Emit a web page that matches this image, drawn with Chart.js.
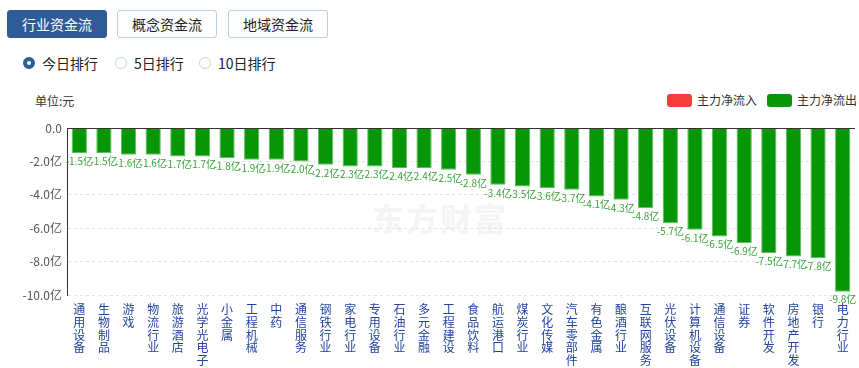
<!DOCTYPE html>
<html>
<head>
<meta charset="utf-8">
<script src="https://cdn.jsdelivr.net/npm/chart.js@4"></script>
<style>
  body { margin: 0; width: 859px; height: 368px; overflow: hidden; background: #fff;
         font-family: "Microsoft YaHei", "Noto Sans CJK SC", sans-serif; position: relative; }
  .tab { position: absolute; top: 10px; height: 28px; width: 100px; box-sizing: border-box;
         border: 1px solid #b9d0e6; border-radius: 3px; font-size: 14px; line-height: 26px;
         text-align: center; color: #222; background: #fff; }
  .tab.on { background: #2f5b97; border-color: #2f5b97; color: #fff; }
  .radio { position: absolute; top: 55px; font-size: 14px; color: #222; line-height: 16px; }
  .radio i { position: absolute; left: -19px; top: 2px; width: 12px; height: 12px; box-sizing: border-box;
             border: 1px solid #c5d5e6; border-radius: 50%; }
  .radio.on i { border: 4px solid #2f5b97; }
  .unit { position: absolute; left: 35px; top: 92px; font-size: 12px; color: #333; }
  .leg { position: absolute; top: 93px; font-size: 12px; color: #333; line-height: 14px; }
  .leg b { position: absolute; left: -30px; top: 1px; width: 25px; height: 13px; border-radius: 3px; }
  .wm { position: absolute; left: 372px; top: 194px; font-size: 32px; font-weight: bold; color: #f4f4f4;
        letter-spacing: 2px; }
  #wrap { position: absolute; left: 0; top: 85px; width: 859px; height: 283px; }
</style>
</head>
<body>
<div class="tab on" style="left:7px">行业资金流</div>
<div class="tab" style="left:117px">概念资金流</div>
<div class="tab" style="left:228px">地域资金流</div>

<div class="radio on" style="left:42px"><i></i>今日排行</div>
<div class="radio" style="left:134px"><i></i>5日排行</div>
<div class="radio" style="left:218px"><i></i>10日排行</div>

<div class="wm">东方财富</div>
<div class="unit">单位:元</div>
<div class="leg" style="left:697px"><b style="background:#f43e3e"></b>主力净流入</div>
<div class="leg" style="left:797px"><b style="background:#079607"></b>主力净流出</div>

<div id="wrap"><canvas id="flowChart"></canvas></div>

<script>
// Industry net main-force outflow, unit: 亿
const categories = ['通用设备', '生物制品', '游戏', '物流行业', '旅游酒店', '光学光电子', '小金属', '工程机械',
  '中药', '通信服务', '钢铁行业', '家电行业', '专用设备', '石油行业', '多元金融', '工程建设',
  '食品饮料', '航运港口', '煤炭行业', '文化传媒', '汽车零部件', '有色金属', '酿酒行业', '互联网服务',
  '光伏设备', '计算机设备', '通信设备', '证券', '软件开发', '房地产开发', '银行', '电力行业'];
const netFlow = [-1.5, -1.5, -1.6, -1.6, -1.7, -1.7, -1.8, -1.9,
  -1.9, -2.0, -2.2, -2.3, -2.3, -2.4, -2.4, -2.5,
  -2.8, -3.4, -3.5, -3.6, -3.7, -4.1, -4.3, -4.8,
  -5.7, -6.1, -6.5, -6.9, -7.5, -7.7, -7.8, -9.8];
const yTicks = [0, -2, -4, -6, -8, -10];

// value labels under each bar + solid zero line
const barLabels = {
  id: 'barLabels',
  afterDatasetsDraw(chart) {
    const ctx = chart.ctx;
    const y = chart.scales.y;
    const area = chart.chartArea;
    ctx.save();
    ctx.strokeStyle = '#333';
    ctx.lineWidth = 1;
    const y0 = Math.round(y.getPixelForValue(0)) + 0.5;
    ctx.beginPath();
    ctx.moveTo(area.left, y0);
    ctx.lineTo(area.right, y0);
    ctx.stroke();

    ctx.font = '10px "Microsoft YaHei", "Noto Sans CJK SC", sans-serif';
    ctx.fillStyle = '#3aa53a';
    ctx.textAlign = 'center';
    ctx.textBaseline = 'top';
    chart.getDatasetMeta(0).data.forEach((bar, i) => {
      ctx.fillText(netFlow[i].toFixed(1) + '亿', bar.x, bar.y + 3);
    });
    ctx.restore();
  }
};

new Chart(document.getElementById('flowChart'), {
  type: 'bar',
  data: {
    labels: categories.map(c => c.split('')),
    datasets: [{
      data: netFlow,
      backgroundColor: '#079607',
      borderColor: '#5cc05c',
      borderWidth: 1,
      borderSkipped: 'start',
      categoryPercentage: 0.62,
      barPercentage: 1
    }]
  },
  options: {
    responsive: true,
    maintainAspectRatio: false,
    animation: false,
    layout: { padding: { top: 43, right: 4, left: 0, bottom: 0 } },
    plugins: { legend: { display: false }, tooltip: { enabled: false } },
    scales: {
      x: {
        grid: { display: false },
        border: { display: false },
        ticks: {
          autoSkip: false, maxRotation: 0, minRotation: 0, padding: 0,
          color: '#2244a0',
          font: { size: 12, lineHeight: '12.8px', family: '"Microsoft YaHei", "Noto Sans CJK SC", sans-serif' }
        },
        afterFit(scale) { scale.height = 73; }
      },
      y: {
        min: -10, max: 0,
        afterBuildTicks(scale) { scale.ticks = yTicks.map(v => ({ value: v })); },
        grid: { color: '#e2e2e2', drawTicks: false },
        border: { display: true, color: '#333', dash: [3, 3] },
        ticks: {
          padding: 5, color: '#555',
          font: { size: 12, family: '"Microsoft YaHei", "Noto Sans CJK SC", sans-serif' },
          callback: v => v === 0 ? '0.0' : v.toFixed(1) + '亿'
        },
        afterFit(scale) { scale.width = 67; }
      }
    }
  },
  plugins: [barLabels]
});
</script>
</body>
</html>
